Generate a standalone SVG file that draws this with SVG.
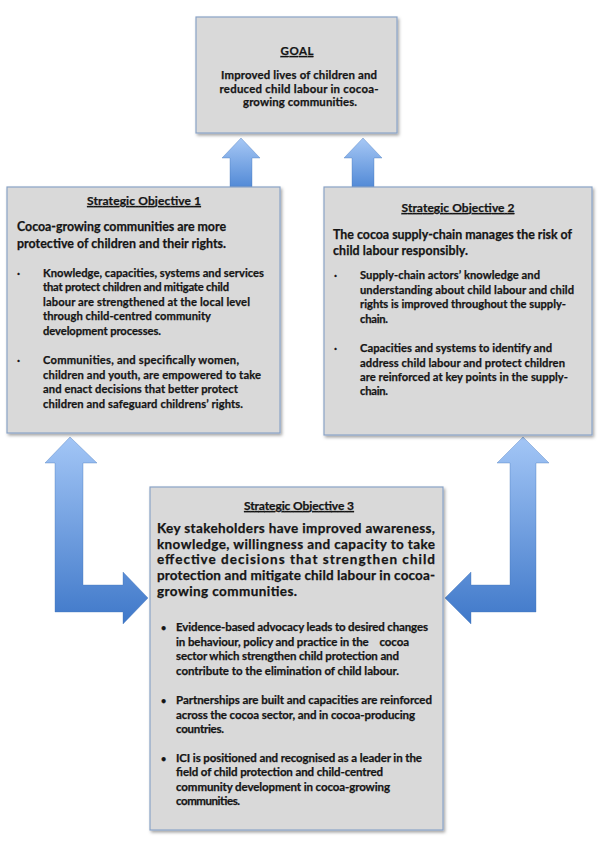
<svg xmlns="http://www.w3.org/2000/svg" width="598" height="850" viewBox="0 0 598 850">
<defs>
<linearGradient id="gUp" x1="0" y1="0" x2="0" y2="1">
<stop offset="0" stop-color="#a7c8f5"/>
<stop offset="1" stop-color="#5189d6"/>
</linearGradient>
<linearGradient id="gL" gradientUnits="userSpaceOnUse" x1="0" y1="437" x2="0" y2="624">
<stop offset="0" stop-color="#a3c6f6"/>
<stop offset="1" stop-color="#3f78c9"/>
</linearGradient>
<filter id="sh" x="-5%" y="-5%" width="115%" height="115%">
<feDropShadow dx="1.5" dy="2" stdDeviation="1.5" flood-color="#000" flood-opacity="0.35"/>
</filter>
</defs>
<style>
.box{fill:#d9d9d9;stroke:#8aa3c6;stroke-width:1.2;filter:url(#sh)}
text{font-family:Lato,"Open Sans","Liberation Sans",sans-serif;font-weight:bold;fill:#151515;stroke:#151515;stroke-width:0.25}
.ttl{font-size:12px;text-decoration:underline;text-anchor:middle}
.gl{font-size:11.4px;text-anchor:middle}
.mn{font-size:12.4px}
.m3{font-size:13.5px}
.bl{font-size:11.2px}
.b3{font-size:11.5px}
.dt{font-size:9px}
.arr{stroke:#3d6fb5;stroke-width:0.6;stroke-opacity:0.6}
</style>
<rect width="598" height="850" fill="#fff"/>
<g id="connectors">
<path class="arr" fill="url(#gUp)" d="M241,138 L260,158 L252,158 L252,188 L230,188 L230,158 L222,158 Z"/>
<path class="arr" fill="url(#gUp)" d="M363,138 L382,158 L374,158 L374,188 L352,188 L352,158 L344,158 Z"/>
<path class="arr" fill="url(#gL)" d="M70,437 L97,463 L83,463 L83,585 L123,585 L123,572 L148,598 L123,624 L123,612 L55,612 L55,463 L45,463 Z"/>
<path class="arr" fill="url(#gL)" d="M523,437 L549,463 L536,463 L536,612 L471,612 L471,624 L445,598 L471,572 L471,585 L510,585 L510,463 L497,463 Z"/>
</g>
<g id="goal">
<rect class="box" x="196" y="17" width="201" height="116"/>
<text class="ttl" x="297" y="55" style="font-size:11.5px" textLength="33" lengthAdjust="spacing">GOAL</text>
<text class="gl" x="299" y="79" textLength="156" lengthAdjust="spacing">Improved lives of children and</text>
<text class="gl" x="299" y="93" textLength="159" lengthAdjust="spacing">reduced child labour in cocoa-</text>
<text class="gl" x="300" y="106" textLength="114" lengthAdjust="spacing">growing communities.</text>
</g>
<g id="so1">
<rect class="box" x="7" y="187" width="273" height="246"/>
<text class="ttl" x="144" y="205" textLength="114" lengthAdjust="spacing">Strategic Objective 1</text>
<text class="mn" x="17" y="231" textLength="209" lengthAdjust="spacing">Cocoa-growing communities are more</text>
<text class="mn" x="17" y="248" textLength="209" lengthAdjust="spacing">protective of children and their rights.</text>
<text class="bl" x="17" y="277">·</text>
<text class="bl" x="43" y="277" textLength="221" lengthAdjust="spacing">Knowledge, capacities, systems and services</text>
<text class="bl" x="43" y="291" textLength="186" lengthAdjust="spacing">that protect children and mitigate child</text>
<text class="bl" x="43" y="306" textLength="207" lengthAdjust="spacing">labour are strengthened at the local level</text>
<text class="bl" x="43" y="320" textLength="168" lengthAdjust="spacing">through child-centred community</text>
<text class="bl" x="43" y="335" textLength="118" lengthAdjust="spacing">development processes.</text>
<text class="bl" x="17" y="364">·</text>
<text class="bl" x="43" y="364" textLength="196" lengthAdjust="spacing">Communities, and specifically women,</text>
<text class="bl" x="43" y="379" textLength="218" lengthAdjust="spacing">children and youth, are empowered to take</text>
<text class="bl" x="43" y="393" textLength="195" lengthAdjust="spacing">and enact decisions that better protect</text>
<text class="bl" x="43" y="408" textLength="200" lengthAdjust="spacing">children and safeguard childrens’ rights.</text>
</g>
<g id="so2">
<rect class="box" x="324" y="187" width="268" height="248"/>
<text class="ttl" x="458" y="212" textLength="113" lengthAdjust="spacing">Strategic Objective 2</text>
<text class="mn" x="333" y="239" textLength="239" lengthAdjust="spacing">The cocoa supply-chain manages the risk of</text>
<text class="mn" x="333" y="255" textLength="135" lengthAdjust="spacing">child labour responsibly.</text>
<text class="bl" x="334" y="279">·</text>
<text class="bl" x="360" y="279" textLength="180" lengthAdjust="spacing">Supply-chain actors’ knowledge and</text>
<text class="bl" x="360" y="294" textLength="214" lengthAdjust="spacing">understanding about child labour and child</text>
<text class="bl" x="360" y="308" textLength="206" lengthAdjust="spacing">rights is improved throughout the supply-</text>
<text class="bl" x="360" y="323" textLength="28" lengthAdjust="spacing">chain.</text>
<text class="bl" x="334" y="352">·</text>
<text class="bl" x="360" y="352" textLength="192" lengthAdjust="spacing">Capacities and systems to identify and</text>
<text class="bl" x="360" y="367" textLength="205" lengthAdjust="spacing">address child labour and protect children</text>
<text class="bl" x="360" y="381" textLength="208" lengthAdjust="spacing">are reinforced at key points in the supply-</text>
<text class="bl" x="360" y="395" textLength="28" lengthAdjust="spacing">chain.</text>
</g>
<g id="so3">
<rect class="box" x="150" y="487" width="293" height="343"/>
<text class="ttl" x="299" y="510" textLength="110" lengthAdjust="spacing">Strategic Objective 3</text>
<text class="m3" x="157" y="533" textLength="278" lengthAdjust="spacing">Key stakeholders have improved awareness,</text>
<text class="m3" x="157" y="549" textLength="278" lengthAdjust="spacing">knowledge, willingness and capacity to take</text>
<text class="m3" x="157" y="564" textLength="278" lengthAdjust="spacing">effective decisions that strengthen child</text>
<text class="m3" x="157" y="580" textLength="278" lengthAdjust="spacing">protection and mitigate child labour in cocoa-</text>
<text class="m3" x="157" y="596" textLength="140" lengthAdjust="spacing">growing communities.</text>
<text class="dt" x="161" y="631">•</text>
<text class="b3" x="176" y="631" textLength="252" lengthAdjust="spacing">Evidence-based advocacy leads to desired changes</text>
<text class="b3" x="176" y="646" textLength="233" lengthAdjust="spacing" style="white-space:pre">in behaviour, policy and practice in the    cocoa</text>
<text class="b3" x="176" y="660" textLength="223" lengthAdjust="spacing">sector which strengthen child protection and</text>
<text class="b3" x="176" y="675" textLength="223" lengthAdjust="spacing">contribute to the elimination of child labour.</text>
<text class="dt" x="161" y="704">•</text>
<text class="b3" x="176" y="704" textLength="256" lengthAdjust="spacing">Partnerships are built and capacities are reinforced</text>
<text class="b3" x="176" y="719" textLength="239" lengthAdjust="spacing">across the cocoa sector, and in cocoa-producing</text>
<text class="b3" x="176" y="733" textLength="48" lengthAdjust="spacing">countries.</text>
<text class="dt" x="161" y="762">•</text>
<text class="b3" x="176" y="762" textLength="246" lengthAdjust="spacing">ICI is positioned and recognised as a leader in the</text>
<text class="b3" x="176" y="776" textLength="207" lengthAdjust="spacing">field of child protection and child-centred</text>
<text class="b3" x="176" y="791" textLength="214" lengthAdjust="spacing">community development in cocoa-growing</text>
<text class="b3" x="176" y="805" textLength="64" lengthAdjust="spacing">communities.</text>
</g>
</svg>
